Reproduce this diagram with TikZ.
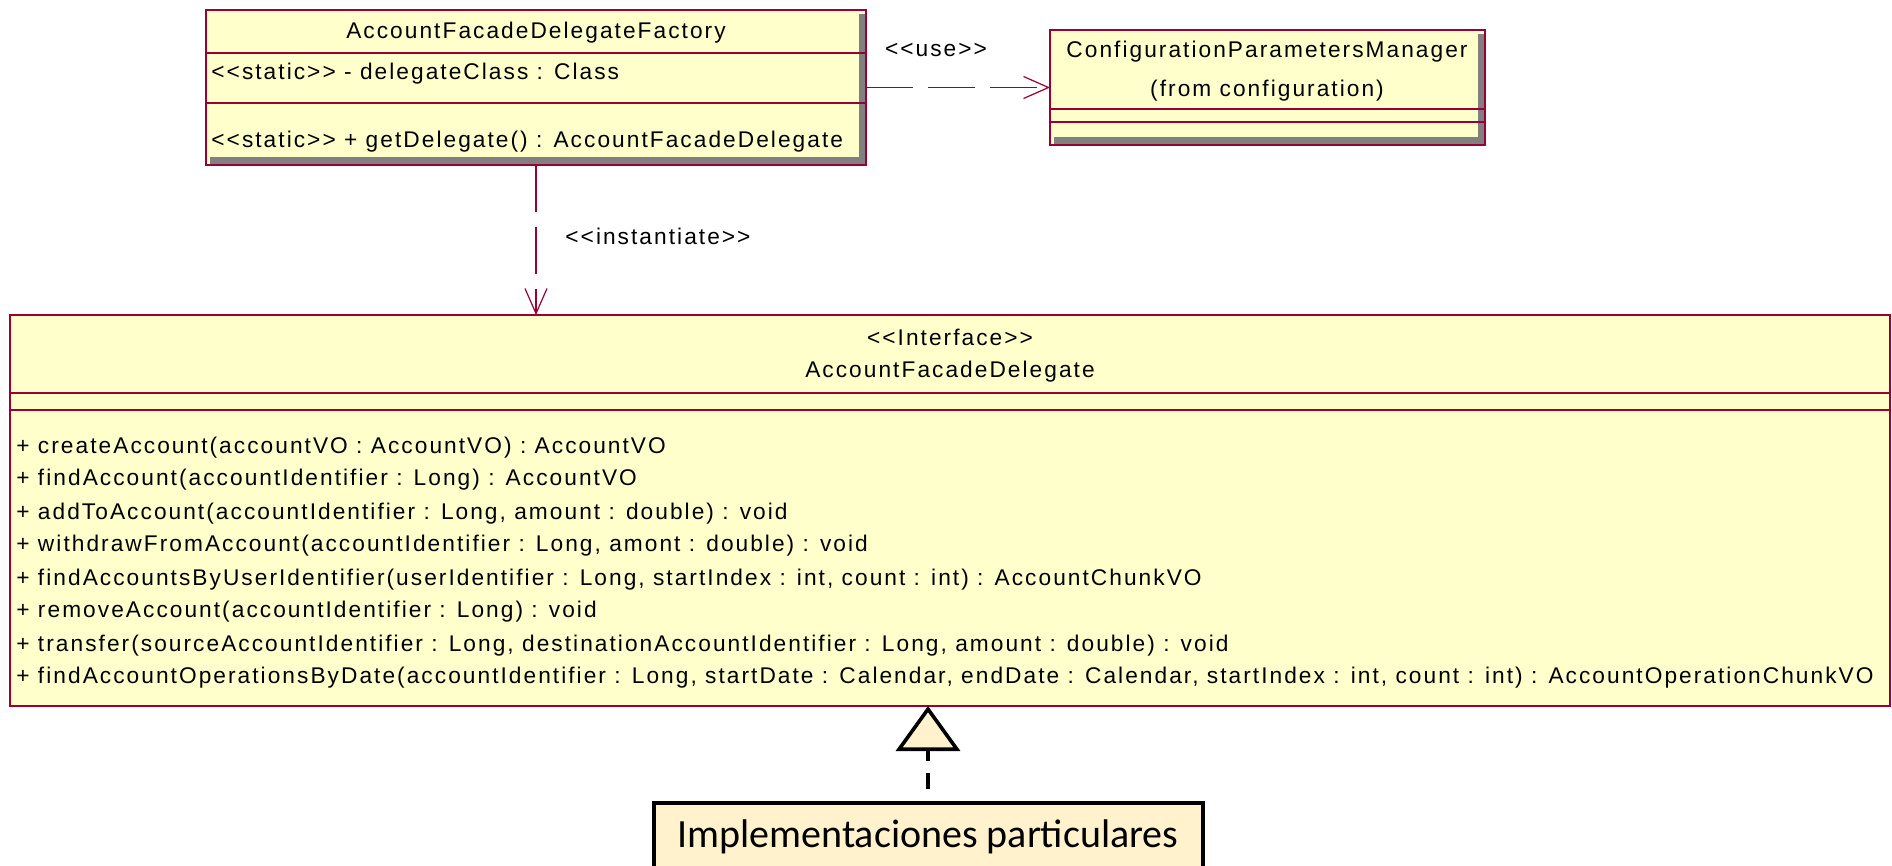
\documentclass[tikz,border=0pt]{standalone}
\usepackage{fontspec}
\setmainfont{Liberation Sans}[LetterSpace=9,Ligatures=TeXOff]
\newfontfamily\notefont{Carlito}
\usepackage{tikz}
\usetikzlibrary{positioning,arrows.meta}

\definecolor{roseyellow}{HTML}{FFFFCC}
\definecolor{rosered}{HTML}{990033}
\definecolor{roseshade}{HTML}{808080}
\definecolor{notefill}{HTML}{FFF2CC}

\begin{document}
\begin{tikzpicture}
[x=0.5pt,y=-0.5pt,
   classbox/.style={draw=rosered,fill=roseyellow,line width=0.6pt,anchor=north west,inner sep=0pt,outer sep=0pt},
   lbl/.style={font=\fontsize{11.35}{13}\selectfont,inner sep=0pt,text height=8pt,text depth=2.2pt,yshift=-1.6pt},
   oplbl/.style={lbl,anchor=west},
   dep/.style={draw=rosered,line width=0.6pt,dash pattern=on 23.5pt off 7.5pt,
      -{Straight Barb[length=12.5pt,width=11pt,line width=0.6pt]}},
   real/.style={draw=black,line width=1.8pt,dash pattern=on 8pt off 6pt,dash phase=8pt,
      -{Triangle[open,fill=notefill,length=22.5pt,width=32pt,line width=1.8pt]}},
   notebox/.style={draw=black,fill=notefill,line width=2pt,anchor=north,inner sep=0pt,
      font=\notefont\fontsize{20}{24}\selectfont}]
\useasboundingbox (0,0) rectangle (1892,866);

% factory class
\node[classbox,minimum width=330pt,minimum height=77.5pt] (fac) at (206,10) {};
\fill[roseshade] (859,14) rectangle (865,164);
\fill[roseshade] (210,157) rectangle (865,164);
\draw[rosered,line width=0.6pt] (206,53) -- (866,53) (206,103) -- (866,103);
\node[lbl] (facname) at (536,30) {AccountFacadeDelegateFactory};
\node[oplbl] (facattr) at (211,71) {<<static>> - delegateClass : Class};
\node[oplbl] (facop) at (211,139) {<<static>> + getDelegate() : AccountFacadeDelegate};

% configuration manager
\node[classbox,minimum width=217.5pt,minimum height=57.5pt] (cfg) at (1050,30) {};
\fill[roseshade] (1478,34) rectangle (1484,144);
\fill[roseshade] (1054,137) rectangle (1484,144);
\draw[rosered,line width=0.6pt] (1050,109) -- (1485,109) (1050,122) -- (1485,122);
\node[lbl] (cfgname) at (1267,49) {ConfigurationParametersManager};
\node[lbl] (cfgfrom) at (1267,88) {(from configuration)};

% interface
\node[classbox,minimum width=940pt,minimum height=195.5pt] (iface) at (10,315) {};
\draw[rosered,line width=0.6pt] (10,393) -- (1890,393) (10,410) -- (1890,410);
\node[lbl] (stereo) at (950,337) {<<Interface>>};
\node[lbl] (ifname) at (950,369) {AccountFacadeDelegate};
\node[oplbl] (op1) at (16,444) {+ createAccount(accountVO : AccountVO) : AccountVO};
\node[oplbl] (op2) at (16,477) {+ findAccount(accountIdentifier : Long) : AccountVO};
\node[oplbl] (op3) at (16,510) {+ addToAccount(accountIdentifier : Long, amount : double) : void};
\node[oplbl] (op4) at (16,543) {+ withdrawFromAccount(accountIdentifier : Long, amont : double) : void};
\node[oplbl] (op5) at (16,576) {+ findAccountsByUserIdentifier(userIdentifier : Long, startIndex : int, count : int) : AccountChunkVO};
\node[oplbl] (op6) at (16,608) {+ removeAccount(accountIdentifier : Long) : void};
\node[oplbl] (op7) at (16,642) {+ transfer(sourceAccountIdentifier : Long, destinationAccountIdentifier : Long, amount : double) : void};
\node[oplbl] (op8) at (16,674) {+ findAccountOperationsByDate(accountIdentifier : Long, startDate : Calendar, endDate : Calendar, startIndex : int, count : int) : AccountOperationChunkVO};

% implementations
\node[notebox,minimum width=274.5pt,minimum height=34pt] (impl) at (928,801) {Implementaciones particulares};

% dependencies
\draw[dep] (fac.east) -- (cfg.west);
\node[lbl] (uselbl) at (936,48) {<<use>>};
\draw[dep] (fac.south) -- (fac.south |- iface.north);
\node[lbl,anchor=west] (instlbl) at (565,236) {<<instantiate>>};
\draw[real] (impl.north) -- (impl.north |- iface.south);

\end{tikzpicture}
\end{document}
